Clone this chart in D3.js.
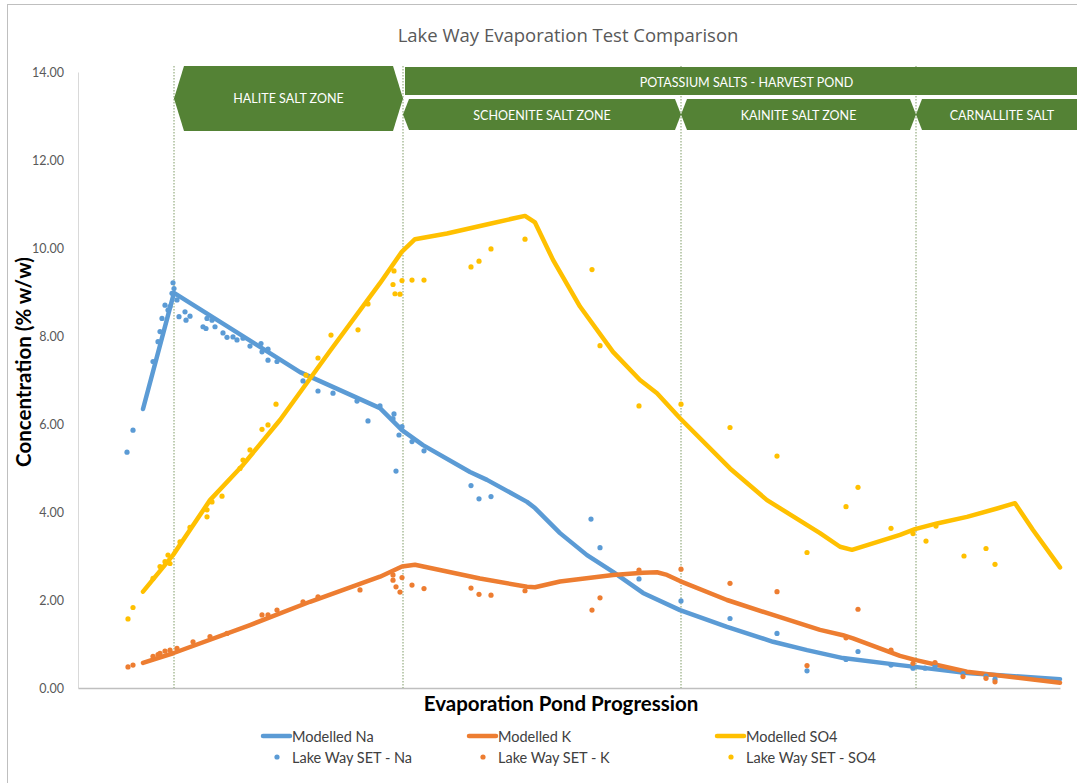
<!DOCTYPE html>
<html>
<head>
<meta charset="utf-8">
<script src="https://cdn.jsdelivr.net/npm/d3@7"></script>
<style>
  html, body { margin: 0; padding: 0; background: #ffffff; }
  svg { display: block; }
  text { font-family: Lato, "Open Sans", sans-serif; }
</style>
</head>
<body>
<svg id="chart" width="1077" height="783"></svg>
<script>
// ---------------- DATA ----------------
const chartTitle = "Lake Way Evaporation Test Comparison";
const yTicks = [0, 2, 4, 6, 8, 10, 12, 14];
const xTitle = "Evaporation Pond Progression";
const yTitle = "Concentration (% w/w)";

// zone boundaries along the progression axis
const zoneBounds = [96, 325, 603, 838, 1010];
const zoneLabels = ["HALITE SALT ZONE", "SCHOENITE SALT ZONE", "KAINITE SALT ZONE", "CARNALLITE SALT"];
const harvestLabel = "POTASSIUM SALTS - HARVEST POND";

// Modelled lines [progression, % w/w]
const modelNa = [[65,6.34],[96,8.98],[222,7.18],[302,6.36],[324,5.86],[345,5.52],[392,4.91],[409,4.73],[449,4.23],[457,4.09],[482,3.52],[509,3.02],[535,2.64],[565,2.16],[602,1.77],[649,1.39],[695,1.05],[729,0.86],[765,0.68],[822,0.52],[837,0.48],[889,0.34],[982,0.20]];
const modelK = [[65,0.57],[95,0.79],[172,1.43],[232,1.96],[302,2.53],[324,2.76],[337,2.80],[402,2.49],[449,2.30],[457,2.29],[482,2.42],[535,2.57],[565,2.62],[579,2.63],[589,2.57],[602,2.43],[649,2.00],[695,1.66],[742,1.32],[765,1.20],[775,1.13],[822,0.73],[837,0.64],[889,0.37],[982,0.12]];
const modelSO4 = [[65,2.19],[95,3.02],[132,4.27],[165,5.07],[202,6.09],[252,7.66],[302,9.20],[324,9.92],[337,10.20],[369,10.33],[412,10.55],[435,10.67],[447,10.73],[457,10.58],[475,9.73],[502,8.67],[535,7.64],[562,7.00],[579,6.70],[602,6.13],[652,4.99],[689,4.27],[742,3.52],[762,3.21],[774,3.14],[822,3.48],[837,3.61],[859,3.74],[889,3.89],[919,4.08],[937,4.20],[955,3.59],[982,2.74]];

// Lake Way SET measured points
const setNa = [[49,5.36],[55,5.86],[75,7.42],[80,7.87],[82,8.10],[84,8.40],[87,8.70],[90,8.59],[92,8.67],[94,8.97],[95,9.21],[96,9.08],[99,8.82],[101,8.44],[107,8.55],[108,8.36],[112,8.45],[125,8.21],[128,8.17],[129,8.40],[134,8.36],[137,8.21],[145,8.07],[149,7.97],[155,7.98],[159,7.91],[165,7.95],[172,7.77],[183,7.83],[184,7.64],[190,7.70],[190,7.45],[199,7.42],[225,6.98],[240,6.75],[255,6.70],[279,6.52],[290,6.07],[302,6.41],[316,6.23],[315,6.12],[318,4.93],[321,5.75],[324,5.94],[334,5.60],[346,5.39],[393,4.60],[401,4.30],[413,4.35],[513,3.84],[522,3.19],[561,2.48],[603,1.98],[652,1.58],[699,1.24],[729,0.39],[768,0.65],[780,0.83],[813,0.52],[835,0.45],[847,0.45],[857,0.50],[885,0.33],[908,0.27],[917,0.20]];
const setK = [[50,0.48],[55,0.52],[75,0.72],[80,0.76],[82,0.79],[87,0.84],[92,0.86],[99,0.90],[115,1.05],[132,1.17],[149,1.24],[184,1.66],[190,1.66],[199,1.77],[225,1.96],[240,2.07],[282,2.23],[315,2.57],[315,2.45],[318,2.30],[322,2.18],[324,2.51],[334,2.34],[346,2.26],[393,2.27],[401,2.13],[413,2.11],[447,2.21],[514,1.77],[522,2.05],[561,2.68],[603,2.70],[652,2.38],[699,2.19],[729,0.51],[768,1.14],[780,1.79],[813,0.86],[835,0.56],[857,0.58],[885,0.26],[908,0.22],[917,0.14]];
const setSO4 = [[50,1.57],[55,1.83],[75,2.49],[82,2.76],[87,2.87],[90,3.02],[92,2.83],[102,3.32],[112,3.65],[129,4.05],[129,3.89],[134,4.23],[144,4.36],[162,4.99],[165,5.18],[172,5.41],[184,5.88],[190,5.98],[198,6.45],[228,7.11],[240,7.50],[253,8.02],[280,8.14],[290,8.73],[316,9.48],[315,9.17],[317,8.96],[322,8.95],[324,9.26],[334,9.27],[346,9.27],[393,9.57],[401,9.70],[413,9.98],[447,10.20],[514,9.51],[522,7.78],[561,6.41],[603,6.45],[652,5.92],[699,5.27],[729,3.08],[768,4.12],[780,4.56],[813,3.63],[835,3.51],[848,3.34],[858,3.68],[886,3.00],[908,3.17],[917,2.81]];

const seriesNames = ["Modelled Na", "Modelled K", "Modelled SO4", "Lake Way SET - Na", "Lake Way SET - K", "Lake Way SET - SO4"];
const colors = ["#5b9bd5", "#ed7d31", "#ffc000"];

// ---------------- CHART ----------------
const svg = d3.select("#chart");
const W = 1077, H = 783;
const plot = { left: 78, right: 1060, top: 72, bottom: 688 };

const x = d3.scaleLinear().domain([0, 982]).range([plot.left, plot.right]);
const y = d3.scaleLinear().domain([0, 14]).range([plot.bottom, plot.top]);

// chart area border
svg.append("rect")
  .attr("x", 7.5).attr("y", 4.5).attr("width", W + 20).attr("height", H + 20)
  .attr("fill", "#ffffff").attr("stroke", "#bfbfbf").attr("stroke-width", 1);

// title
svg.append("text")
  .attr("x", 568).attr("y", 42)
  .attr("text-anchor", "middle")
  .attr("font-size", 18.5).attr("fill", "#595959")
  .style("font-family", "'Open Sans', sans-serif")
  .text(chartTitle);

// y axis
const yAxis = d3.axisLeft(y).tickValues(yTicks).tickSize(0).tickPadding(14)
  .tickFormat(d3.format(".2f"));
const gy = svg.append("g").attr("transform", `translate(${plot.left},0)`).call(yAxis);
gy.select(".domain").attr("stroke", "#d9d9d9").attr("stroke-width", 1);
gy.selectAll("text").attr("font-size", 12.5).attr("fill", "#595959")
  .style("font-family", "Lato, sans-serif");

// x axis (no ticks)
const xAxis = d3.axisBottom(x).tickValues([]).tickSize(0).tickSizeOuter(0);
const gx = svg.append("g").attr("transform", `translate(0,${plot.bottom})`).call(xAxis);
gx.select(".domain").attr("stroke", "#bfbfbf").attr("stroke-width", 1.3);

// zone divider lines
svg.append("g").selectAll("line")
  .data(zoneBounds.slice(0, 4))
  .join("line")
  .attr("x1", d => x(d)).attr("x2", d => x(d))
  .attr("y1", 66).attr("y2", plot.bottom)
  .attr("stroke", "#7f9b66").attr("stroke-width", 1)
  .attr("stroke-dasharray", "1.5,1.5");

// banners
const banner = svg.append("g");
function hexPath(x0, x1, t, b, inset) {
  const m = (t + b) / 2;
  return `M${x0},${m}L${x0 + inset},${t}L${x1 - inset},${t}L${x1},${m}L${x1 - inset},${b}L${x0 + inset},${b}Z`;
}
const green = "#548235";
// halite zone
banner.append("path")
  .attr("d", hexPath(x(zoneBounds[0]), x(zoneBounds[1]), 66, 131, 10))
  .attr("fill", green);
banner.append("text")
  .attr("x", (x(zoneBounds[0]) + x(zoneBounds[1])) / 2).attr("y", 98)
  .attr("text-anchor", "middle").attr("dominant-baseline", "central")
  .attr("font-size", 12.5).attr("fill", "#ffffff")
  .text(zoneLabels[0]);
// harvest pond bar
const hx0 = x(zoneBounds[1]) + 2, hx1 = x(zoneBounds[4]);
banner.append("rect")
  .attr("x", hx0).attr("y", 67).attr("width", hx1 - hx0).attr("height", 28)
  .attr("fill", green);
banner.append("text")
  .attr("x", (hx0 + hx1) / 2).attr("y", 82)
  .attr("text-anchor", "middle").attr("dominant-baseline", "central")
  .attr("font-size", 12.5).attr("fill", "#ffffff")
  .text(harvestLabel);
// sub zones
for (let i = 1; i < 4; i++) {
  const a = x(zoneBounds[i]), b = x(zoneBounds[i + 1]);
  banner.append("path")
    .attr("d", hexPath(a, b, 99, 130, 6))
    .attr("fill", green);
  banner.append("text")
    .attr("x", (a + b) / 2).attr("y", 115)
    .attr("text-anchor", "middle").attr("dominant-baseline", "central")
    .attr("font-size", 12.5).attr("fill", "#ffffff")
    .text(zoneLabels[i]);
}

// modelled lines
const line = d3.line().x(d => x(d[0])).y(d => y(d[1])).curve(d3.curveLinear);
const models = [modelNa, modelK, modelSO4];
svg.append("g").selectAll("path")
  .data(models)
  .join("path")
  .attr("d", line)
  .attr("fill", "none")
  .attr("stroke", (d, i) => colors[i])
  .attr("stroke-width", 4.5)
  .attr("stroke-linejoin", "round")
  .attr("stroke-linecap", "round");

// measured points
const sets = [setNa, setK, setSO4];
sets.forEach((s, i) => {
  svg.append("g").selectAll("circle")
    .data(s)
    .join("circle")
    .attr("cx", d => x(d[0])).attr("cy", d => y(d[1]))
    .attr("r", 2.6)
    .attr("fill", colors[i]);
});

// axis titles
svg.append("text")
  .attr("x", 561).attr("y", 711)
  .attr("text-anchor", "middle")
  .attr("font-size", 20.5).attr("font-weight", "bold").attr("fill", "#000000")
  .text(xTitle);
svg.append("text")
  .attr("transform", "translate(31,362) rotate(-90)")
  .attr("text-anchor", "middle")
  .attr("font-size", 20.5).attr("font-weight", "bold").attr("fill", "#000000")
  .text(yTitle);

// legend
const legendCols = [291, 497, 745];
const leg = svg.append("g");
seriesNames.forEach((name, i) => {
  const col = i % 3, row = Math.floor(i / 3);
  const tx = legendCols[col];
  const ty = row === 0 ? 736 : 757;
  if (row === 0) {
    leg.append("line")
      .attr("x1", tx - 28).attr("x2", tx - 1).attr("y1", ty).attr("y2", ty)
      .attr("stroke", colors[col]).attr("stroke-width", 4.5).attr("stroke-linecap", "round");
  } else {
    leg.append("circle")
      .attr("cx", tx - 14).attr("cy", ty).attr("r", 2.6).attr("fill", colors[col]);
  }
  leg.append("text")
    .attr("x", tx + 1).attr("y", ty)
    .attr("dominant-baseline", "central")
    .attr("font-size", 14.5).attr("fill", "#404040")
    .text(name);
});
</script>
</body>
</html>
